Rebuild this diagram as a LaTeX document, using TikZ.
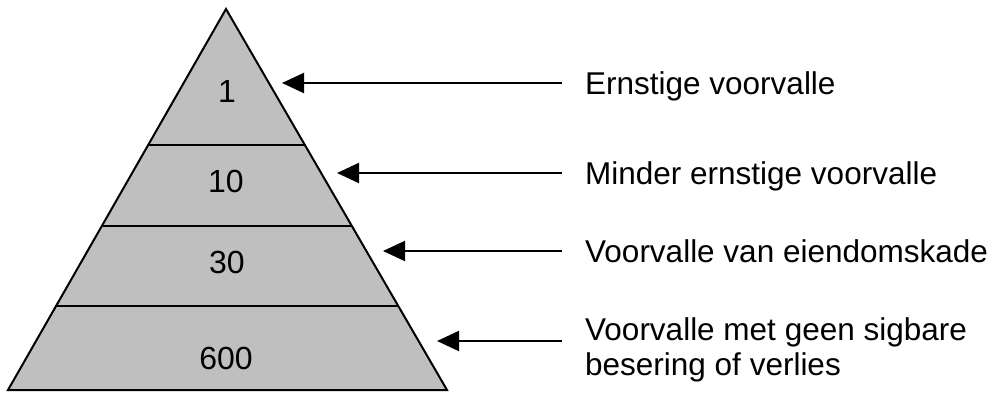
\documentclass[tikz,border=0pt]{standalone}
\usepackage{fontspec}
\setmainfont{Liberation Sans}
\usetikzlibrary{arrows.meta}
\begin{document}
\begin{tikzpicture}[x=1pt,y=-1pt,
  layer/.style={draw=black,line width=2pt},
  num/.style={font=\fontsize{32}{36}\selectfont,inner sep=0pt},
  lab/.style={font=\fontsize{31.5}{35}\selectfont,anchor=west,inner xsep=23pt,
    inner ysep=0pt,text height=22pt,text depth=0pt},
  pointer/.style={line width=2pt,-{Triangle[length=22pt,width=20pt]}}]
  \useasboundingbox (0,0) rectangle (1005,394);
  % pyramid
  \coordinate (top) at (226,9);
  \coordinate (bl) at (8,390);
  \coordinate (br) at (447,390);
  \fill[black!25] (top) -- (bl) -- (br) -- cycle;
  \draw[layer] (148,145) -- (305,145);
  \draw[layer] (101,226) -- (352,226);
  \draw[layer] (55,306) -- (399,306);
  \draw[layer,line join=miter] (top) -- (bl) -- (br) -- cycle;
  % tier counts
  \node[num] (n1) at (227,91) {1};
  \node[num] (n2) at (226,181) {10};
  \node[num] (n3) at (227,262) {30};
  \node[num] (n4) at (226,358) {600};
  % descriptions
  \node[lab] (l1) at (562,83) {Ernstige voorvalle};
  \node[lab] (l2) at (562,173) {Minder ernstige voorvalle};
  \node[lab] (l3) at (562,251) {Voorvalle van eiendomskade};
  \node[font=\fontsize{31.5}{35}\selectfont,anchor=west,inner xsep=23pt,
    inner ysep=0pt,align=left] (l4) at (562,350)
    {Voorvalle met geen sigbare\\besering of verlies};
  % arrow tips beside the pyramid
  \coordinate (p1) at (282,83);
  \coordinate (p2) at (337,173);
  \coordinate (p3) at (383,251);
  \coordinate (p4) at (437,341);
  \draw[pointer] (l1.west) -- (p1);
  \draw[pointer] (l2.west) -- (p2);
  \draw[pointer] (l3.west) -- (p3);
  \draw[pointer] (l4.west|-p4) -- (p4);
\end{tikzpicture}
\end{document}
